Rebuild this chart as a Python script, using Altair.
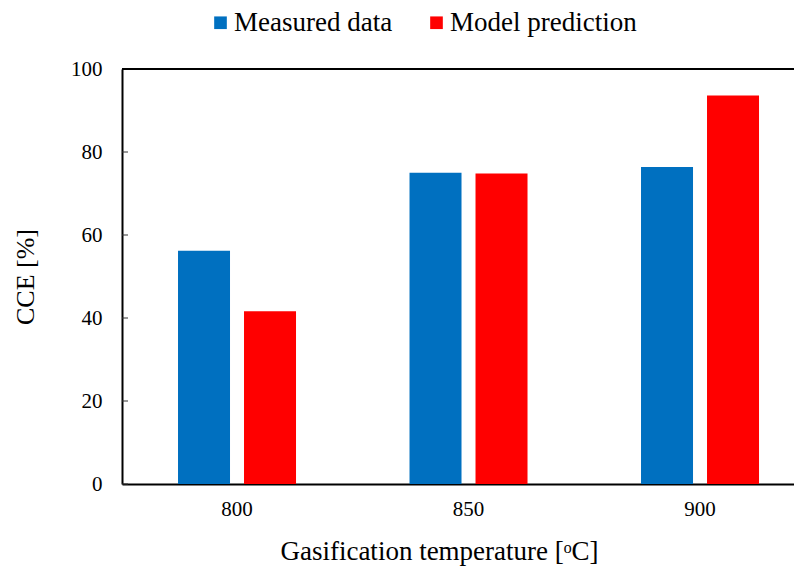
import altair as alt
import pandas as pd

temps = ["800", "850", "900"]
series = ["Measured data", "Model prediction"]
measured = [56.2, 75.0, 76.4]
predicted = [41.6, 74.8, 93.6]
y_ticks = [0, 20, 40, 60, 80, 100]
colors = ["#0070C0", "#FF0000"]

rows = []
for t, m, p in zip(temps, measured, predicted):
    rows.append({"temp": t, "series": series[0], "cce": m})
    rows.append({"temp": t, "series": series[1], "cce": p})
df = pd.DataFrame(rows)
ticks_df = pd.DataFrame({"tick": y_ticks})

FONT = "Liberation Serif"

x_scale = alt.Scale(domain=temps, paddingInner=0.4, paddingOuter=0.1514, align=0.65)
y_scale = alt.Scale(domain=[0, 100])

bars = alt.Chart(df).mark_bar().encode(
    x=alt.X("temp:N", scale=x_scale, sort=temps,
            axis=alt.Axis(title="Gasification temperature [ᵒC]", labelAngle=0,
                          ticks=False, domain=True, domainColor="black", domainWidth=2,
                          labelFont=FONT, labelFontSize=21, labelColor="black",
                          labelPadding=14, titleFont=FONT, titleFontSize=27,
                          titleFontWeight="normal", titleColor="black", titlePadding=19,
                          titleX=317, titleAlign="center")),
    xOffset=alt.XOffset("series:N", sort=series,
                        scale=alt.Scale(paddingInner=0.2121, paddingOuter=0.1583)),
    y=alt.Y("cce:Q", scale=y_scale,
            axis=alt.Axis(title="CCE [%]", values=y_ticks, ticks=False, grid=False,
                          domain=True, domainColor="black", domainWidth=2,
                          labelFont=FONT, labelFontSize=21, labelColor="black",
                          labelPadding=20, titleFont=FONT, titleFontSize=26,
                          titleFontWeight="normal", titleColor="black", titlePadding=32)),
    color=alt.Color("series:N", sort=series,
                    scale=alt.Scale(domain=series, range=colors),
                    legend=alt.Legend(title=None, orient="none", direction="horizontal",
                                      legendX=85, legendY=-60,
                                      labelFont=FONT, labelFontSize=27, labelColor="black",
                                      labelLimit=400,
                                      symbolType="square", symbolSize=160,
                                      symbolStrokeWidth=0, labelOffset=0,
                                      columnPadding=30)),
)

tick_marks = alt.Chart(ticks_df).mark_rule(color="#333333", strokeWidth=1).encode(
    y=alt.Y("tick:Q", scale=y_scale),
    x=alt.value(0),
    x2=alt.value(6),
)

top_line = alt.Chart(pd.DataFrame({"top": [100]})).mark_rule(color="black", strokeWidth=2).encode(
    y=alt.Y("top:Q", scale=y_scale),
)

chart = alt.layer(bars, tick_marks, top_line).properties(
    width=672, height=415,
    autosize=alt.AutoSizeParams(type="none"),
    padding={"left": 114, "top": 61, "right": 0, "bottom": 90},
).configure_view(stroke=None).configure_axis(grid=False)

chart.save("out.html", embed_options={"renderer": "svg", "actions": False})
